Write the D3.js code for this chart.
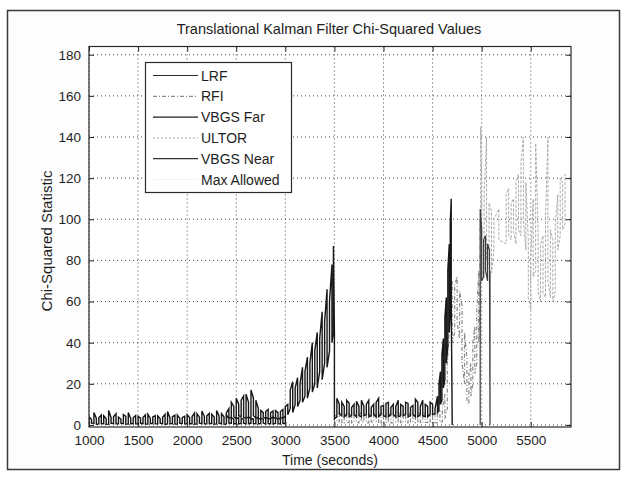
<!DOCTYPE html>
<html>
<head>
<meta charset="utf-8">
<script src="https://cdn.jsdelivr.net/npm/d3@7/dist/d3.min.js"></script>
<style>
  body { margin: 0; background: #fff; }
  text { font-family: "Liberation Sans", Arial, sans-serif; fill: #1e1e1e; }
</style>
</head>
<body>
<svg id="chart" width="624" height="479"></svg>
<script>
// ---- Chi-squared statistic per sensor: each sample time carries the low and high
// ---- excursion of the noisy trace around that time (seconds, unitless statistic).

// LRF
const lrfTime = [
  1000,1025,1050,1075, 1100,1125,1150,1175, 1200,1225,1250,1275, 1300,1325,1350,1375,
  1400,1425,1450,1475, 1500,1525,1550,1575, 1600,1625,1650,1675, 1700,1725,1750,1775,
  1800,1825,1850,1875, 1900,1925,1950,1975, 2000,2025,2050,2075, 2100,2125,2150,2175,
  2200,2225,2250,2275, 2300,2325,2350,2375, 2400,2425,2450,2475, 2500,2525,2550,2575,
  2600,2625,2650,2675, 2700,2725,2750,2775, 2800,2825,2850,2875, 2900,2925,2950,2975, 3000];
const lrfLow = [
  0.5,0.9,0.8,0.4, 0.5,0.7,0.6,0.3, 0.4,0.8,0.7,0.5, 0.5,0.9,0.6,0.4,
  0.4,0.6,0.7,0.5, 0.5,0.8,0.6,0.4, 0.4,0.7,0.7,0.5, 0.5,0.9,0.6,0.3,
  0.5,0.7,0.6,0.4, 0.4,0.8,0.7,0.5, 0.5,0.6,0.6,0.4, 0.5,0.9,0.6,0.5,
  0.5,0.7,0.7,0.4, 0.5,0.8,0.6,0.4, 0.5,0.9,0.8,0.6, 0.6,0.5,0.7,0.8,
  0.5,0.6,0.8,0.7, 0.6,0.5,0.7,0.9, 0.5,0.7,0.6,0.5, 0.7,0.6,0.5,0.8, 0.6];
const lrfHigh = [
  4,2.8,6,3.2, 3.5,4.8,4.5,3, 7,3.6,4,5.5, 3.8,2.9,5,4.2,
  6,3.1,3.5,4.6, 4.2,3.3,3.6,4.9, 5.2,3.2,3.9,4.5, 4.4,3,3.7,5.1,
  6.5,3.4,4,4.7, 4.8,3.2,3.6,4.3, 5,3.5,4.1,5.8, 5.5,3.8,6.8,4.2,
  4.5,5.6,5.2,3.9, 7,4.4,5.5,4, 4.8,3.2,3.5,2.8, 3,3.6,3.2,2.7,
  3.4,3.8,3,2.9, 3.3,3.7,3.1,2.8, 3.5,3.2,3.2,3.9, 3.4,2.9,3.6,3.3, 4];

// RFI
const rfiTime = [
  3500,3525,3550,3575, 3600,3625,3650,3675, 3700,3725,3750,3775, 3800,3825,3850,3875,
  3900,3925,3950,3975, 4000,4025,4050,4075, 4100,4125,4150,4175, 4200,4225,4250,4275,
  4300,4325,4350,4375, 4400,4425,4450,4475, 4500,4525,4550,4575, 4600,4625,4650,
  4700,4725,4750,4775,4800,4825,4850,4870,4890,4910,4930,4950,4970,4985];
const rfiLow = [
  1,1.5,1.5,1, 1,1.3,1.2,1, 1.5,1.1,1,1.4, 1.3,1,1,1.5,
  1.5,1.2,1.2,1, 1,1.3,1.4,1, 1,1.5,1.5,1.1, 1.2,1,1,1.4,
  1.3,1,1.5,1.2, 1,1.3,1.2,1, 1.4,1.1,1,1.3, 1.5,3,8,
  40,45,50,42,30,20,12,10,14,20,25,30,40,60];
const rfiHigh = [
  5,4,6,5.2, 4.5,5.8,5.5,4.2, 6,5,5,6.2, 4.8,5.3,5.5,4.5,
  6,5.1,5,5.7, 4.5,5.4,5.8,4.6, 5,6.1,6,4.9, 5.2,5.6,4.8,5.9,
  5.5,4.4,6,5.3, 5,6.2,5.5,4.7, 6,5.4,5.2,6.5, 8,15,30,
  70,68,72,65,58,45,32,25,30,40,48,55,75,100];

// VBGS Far
const vbgsFarTime = [
  2400,2425,2450,2475, 2500,2525,2550,2575, 2600,2625,2650,2675, 2700,2725,2750,2775,
  2800,2825,2850,2875, 2900,2925,2950,2975, 3000,3025,3050,3075, 3100,3125,3150,3175,
  3200,3225,3250,3275, 3300,3325,3350,3375, 3400,3425,3450,3475, 3490,3500,
  3525,3550,3575, 3600,3625,3650,3675, 3700,3725,3750,3775, 3800,3825,3850,3875,
  3900,3925,3950,3975, 4000,4025,4050,4075, 4100,4125,4150,4175, 4200,4225,4250,4275,
  4300,4325,4350,4375, 4400,4425,4450,4475, 4500,4525,4550,
  4565,4580,4595,4610,4625,4640,4655,4670,4680,4690,4700];
const vbgsFarLow = [
  3,3.5,3.5,4, 3,4.5,4,3.5, 3.5,4,3,4.5, 3.5,3,3,3.5,
  3.5,3,3,3.5, 3.5,3,3,3.5, 4,5,8,6, 10,9,12,11,
  14,13,18,16, 20,18,26,22, 30,28,36,40, 45,3,
  4,5,4.5, 4,5,4,4.5, 5,4,4.5,4, 4.5,5,4,4.5,
  5,4,4,5, 4.5,4,4,5, 5,4,4,4.5, 4.5,5,4,4.5,
  5,4,4,5, 4.5,4,4,5, 5,5.5,6,
  7,10,12,18,22,30,38,45,55,60,0];
const vbgsFarHigh = [
  6,8,11,9, 13,10,12,14, 15,11,17,13, 12,8,7,6,
  6.5,7.5,6,6.8, 7,6,6.5,7.5, 9,10,17,21, 18,23,20,28,
  26,33,30,40, 36,45,42,55, 50,66,60,78, 87,45,
  13,10,11, 9,12,10.5,8.5, 10,11.5,9,12, 9,10,12,8.5,
  10,11,13,9, 9.5,10.5,11,8.5, 10,9,12,10, 9,11,10.5,8.5,
  9.5,12.5,11,9, 12,10,9,11, 10,8,14,
  20,26,34,42,52,62,75,88,98,110,0];

// ULTOR
const ultorTime = [4990,5000,5025,5050,5075,5100,5125,5175,5250,5275,5300,5325,5350,5375,5400,5425,5450,5475,5500,5525,5550,5575,5600,5625,5650,5675,5700,5725,5750,5775,5800,5825,5850];
const ultorLow  = [40,75,72,80,78,74,85,90,88,92,90,94,88,95,92,100,85,62,56,72,75,65,60,64,62,70,62,60,65,85,92,95,98];
const ultorHigh = [145,120,112,140,108,104,100,105,112,115,108,110,118,122,127,140,118,90,80,110,137,95,88,92,100,140,95,90,98,112,120,118,122];

// VBGS Near
const vbgsNearTime = [4985,5000,5020,5040,5060,5080,5085];
const vbgsNearLow  = [0,70,72,75,70,74,0];
const vbgsNearHigh = [105,95,90,92,88,85,75];

// Axis ticks
const xTicks = [1000,1500,2000,2500,3000,3500,4000,4500,5000,5500];
const yTicks = [0,20,40,60,80,100,120,140,160,180];

const legendNames = ["LRF","RFI","VBGS Far","ULTOR","VBGS Near","Max Allowed"];

// ---- layout
const svg = d3.select("#chart");
const plot = { left: 89, right: 571, top: 46.5, bottom: 427 };

const x = d3.scaleLinear().domain([1000, 5910]).range([plot.left, plot.right]);
const y = d3.scaleLinear().domain([-1, 184]).range([plot.bottom, plot.top]);

// outer figure frame
svg.append("rect")
  .attr("x", 7.5).attr("y", 10.5).attr("width", 612).attr("height", 459)
  .attr("fill", "#fdfdfd").attr("stroke", "#3a3a3a").attr("stroke-width", 1.5);

svg.append("rect")
  .attr("x", plot.left).attr("y", plot.top)
  .attr("width", plot.right - plot.left).attr("height", plot.bottom - plot.top)
  .attr("fill", "#fff");

// dotted grid
const grid = svg.append("g").attr("stroke", "#4a4a4a").attr("stroke-width", 1)
  .attr("stroke-dasharray", "1,3");
grid.selectAll("line.gx").data(xTicks).join("line")
  .attr("x1", d => x(d)).attr("x2", d => x(d))
  .attr("y1", plot.top).attr("y2", plot.bottom);
grid.selectAll("line.gy").data(yTicks).join("line")
  .attr("x1", plot.left).attr("x2", plot.right)
  .attr("y1", d => y(d)).attr("y2", d => y(d));

// ---- traces
svg.append("defs").append("clipPath").attr("id", "plotClip")
  .append("rect").attr("x", plot.left).attr("y", plot.top)
  .attr("width", plot.right - plot.left).attr("height", plot.bottom - plot.top);

// A noisy trace: at each sample the pen sweeps between the low and high excursion,
// alternating direction so neighbouring sweeps join along the band edges.
function sweep(times, lows, highs) {
  const pts = [];
  times.forEach((t, i) => {
    if (i % 2 === 0) { pts.push([t, lows[i]]); pts.push([t, highs[i]]); }
    else { pts.push([t, highs[i]]); pts.push([t, lows[i]]); }
  });
  return pts;
}
const line = d3.line().x(d => x(d[0])).y(d => y(d[1]));

const traces = [
  { pts: sweep(lrfTime, lrfLow, lrfHigh), color: "#151515", width: 1.4, dash: null },
  { pts: sweep(rfiTime, rfiLow, rfiHigh), color: "#8a8a8a", width: 1.2, dash: "4,2,1,2" },
  { pts: sweep(ultorTime, ultorLow, ultorHigh), color: "#ababab", width: 1, dash: "3,1.5" },
  { pts: sweep(vbgsFarTime, vbgsFarLow, vbgsFarHigh), color: "#181818", width: 1.4, dash: null },
  { pts: sweep(vbgsNearTime, vbgsNearLow, vbgsNearHigh), color: "#3c3c3c", width: 1.2, dash: null }
];

const tg = svg.append("g").attr("clip-path", "url(#plotClip)");
traces.forEach(tr => {
  tg.append("path").attr("d", line(tr.pts))
    .attr("fill", "none").attr("stroke", tr.color).attr("stroke-width", tr.width)
    .attr("stroke-dasharray", tr.dash);
});

// ---- axes (ticks inside, mirrored on top/right)
const fmt = d3.format("d");
const axB = svg.append("g").attr("transform", `translate(0,${plot.bottom})`)
  .call(d3.axisBottom(x).tickValues(xTicks).tickFormat(fmt).tickSize(-5).tickPadding(8));
const axL = svg.append("g").attr("transform", `translate(${plot.left},0)`)
  .call(d3.axisLeft(y).tickValues(yTicks).tickFormat(fmt).tickSize(-5).tickPadding(8));
const axT = svg.append("g").attr("transform", `translate(0,${plot.top})`)
  .call(d3.axisTop(x).tickValues(xTicks).tickFormat("").tickSize(-5));
const axR = svg.append("g").attr("transform", `translate(${plot.right},0)`)
  .call(d3.axisRight(y).tickValues(yTicks).tickFormat("").tickSize(-5));
[axB, axL, axT, axR].forEach(a => {
  a.select(".domain").remove();
  a.selectAll(".tick line").attr("stroke", "#222");
});
axB.selectAll("text").attr("font-size", 13.5).style("fill", "#1e1e1e");
axL.selectAll("text").attr("font-size", 13.5).style("fill", "#1e1e1e");

svg.append("rect")
  .attr("x", plot.left).attr("y", plot.top)
  .attr("width", plot.right - plot.left).attr("height", plot.bottom - plot.top)
  .attr("fill", "none").attr("stroke", "#2a2a2a").attr("stroke-width", 1.2);

// ---- titles
svg.append("text").attr("x", 329).attr("y", 34).attr("text-anchor", "middle")
  .attr("font-size", 14.5).text("Translational Kalman Filter Chi-Squared Values");
svg.append("text").attr("x", 330).attr("y", 465).attr("text-anchor", "middle")
  .attr("font-size", 14).text("Time (seconds)");
svg.append("text").attr("transform", "translate(52,241) rotate(-90)")
  .attr("text-anchor", "middle").attr("font-size", 15).text("Chi-Squared Statistic");

// ---- legend
const legendStyles = [
  { color: "#2a2a2a", dash: null },
  { color: "#8a8a8a", dash: "4,2,1,2" },
  { color: "#1e1e1e", dash: null },
  { color: "#b8b8b8", dash: "2,2" },
  { color: "#333", dash: null },
  { color: "#f4f4f4", dash: null }
];
const lg = svg.append("g");
lg.append("rect").attr("x", 145.5).attr("y", 62.5).attr("width", 146).attr("height", 130)
  .attr("fill", "#fff").attr("stroke", "#2a2a2a").attr("stroke-width", 1.2);
legendNames.forEach((name, i) => {
  const cy = 75.5 + i * 20.8;
  lg.append("line").attr("x1", 153).attr("x2", 198).attr("y1", cy).attr("y2", cy)
    .attr("stroke", legendStyles[i].color).attr("stroke-width", 1.2)
    .attr("stroke-dasharray", legendStyles[i].dash);
  lg.append("text").attr("x", 201).attr("y", cy + 5).attr("font-size", 14).text(name);
});
</script>
</body>
</html>
